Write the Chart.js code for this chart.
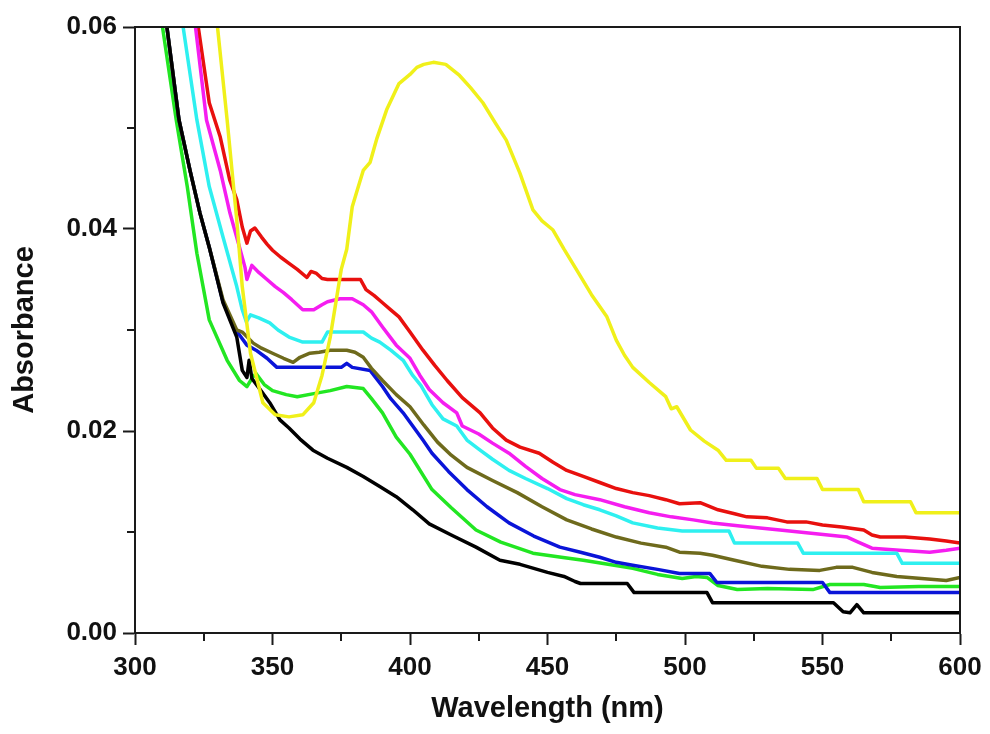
<!DOCTYPE html>
<html>
<head>
<meta charset="utf-8">
<script src="https://cdn.jsdelivr.net/npm/chart.js@4.4.0/dist/chart.umd.min.js"></script>
<style>
  html, body { margin: 0; padding: 0; background: #fff; }
  #wrap { width: 990px; height: 734px; }
</style>
</head>
<body>
<div id="wrap"><canvas id="spectra" width="990" height="734"></canvas></div>
<script>
// axis ticks
const xMajorTicks = [300, 350, 400, 450, 500, 550, 600];
const xMinorTicks = [325, 375, 425, 475, 525, 575];
const yMajorTicks = [0, 0.02, 0.04, 0.06];
const yMinorTicks = [0.01, 0.03, 0.05];

// absorption spectra, wavelength (nm) / absorbance
const yellowWl = [325, 330, 333.5, 337, 339, 342, 346.5, 351, 356, 361, 365, 368, 371, 375, 377, 379, 381, 383, 385.5, 388, 391.5, 396, 400, 402.5, 405, 408.5, 413, 418, 422, 426.5, 431, 435, 440, 444.7, 448, 452, 456, 460.7, 466, 471.6, 475, 478, 481, 487, 493, 495, 497, 502, 507, 512, 515, 524, 526, 534, 536.5, 548, 550, 563, 565, 582, 584, 600];
const yellowAbs = [0.068, 0.060, 0.0508, 0.0409, 0.0343, 0.0277, 0.0228, 0.0216, 0.0214, 0.0216, 0.0228, 0.0255, 0.0293, 0.0360, 0.0380, 0.0422, 0.0440, 0.0458, 0.0466, 0.0490, 0.0518, 0.0544, 0.0553, 0.0560, 0.0563, 0.0565, 0.0563, 0.0552, 0.0540, 0.0525, 0.0505, 0.0488, 0.0455, 0.0419, 0.0408, 0.0399, 0.0380, 0.0359, 0.0335, 0.0313, 0.0290, 0.0275, 0.0263, 0.0248, 0.0234, 0.0222, 0.0224, 0.0201, 0.0190, 0.0181, 0.0171, 0.0171, 0.0163, 0.0163, 0.0153, 0.0153, 0.0142, 0.0142, 0.0130, 0.0130, 0.0119, 0.0119];

const redWl = [318, 323, 327, 331, 334.5, 337, 339, 340.7, 342, 343.6, 346, 348, 350, 353, 356, 359, 362.5, 364, 366, 368, 370, 382, 384, 387, 390, 393, 396, 400, 404.7, 409, 413.5, 419, 425.5, 430, 435, 440, 447, 452, 457, 463, 469, 475, 481, 487, 493, 498, 505.5, 512, 518, 522.5, 530, 537, 544, 550, 557, 565, 568, 571, 580, 589, 595, 600];
const redAbs = [0.072, 0.060, 0.0525, 0.0491, 0.0448, 0.0429, 0.0402, 0.0386, 0.0398, 0.0401, 0.0392, 0.0385, 0.0379, 0.0372, 0.0366, 0.0360, 0.0352, 0.0358, 0.0356, 0.0351, 0.0350, 0.0350, 0.0340, 0.0334, 0.0327, 0.0320, 0.0313, 0.0298, 0.0280, 0.0265, 0.0250, 0.0233, 0.0218, 0.0203, 0.0191, 0.0184, 0.0178, 0.0169, 0.0161, 0.0155, 0.0149, 0.0143, 0.0139, 0.0136, 0.0132, 0.0128, 0.0129, 0.0122, 0.0118, 0.0115, 0.0114, 0.0110, 0.0110, 0.0107, 0.0105, 0.0102, 0.0097, 0.0095, 0.0095, 0.0093, 0.0091, 0.0089];

const magentaWl = [316, 322, 326, 331, 334.5, 338, 340, 340.7, 342.5, 345, 348, 351, 354, 357, 361, 365, 368, 370, 374.5, 379, 383, 386, 390, 395, 400, 403.6, 407, 412, 417, 419, 425, 430, 436, 442, 448, 454.5, 460, 469, 478, 487, 495, 503, 510, 520, 534.5, 545, 559, 563, 568, 578, 589, 595, 600];
const magentaAbs = [0.073, 0.060, 0.0508, 0.0458, 0.0416, 0.0382, 0.0362, 0.0350, 0.0364, 0.0357, 0.0350, 0.0343, 0.0337, 0.0330, 0.0320, 0.0320, 0.0325, 0.0328, 0.0331, 0.0331, 0.0325, 0.0318, 0.0303, 0.0285, 0.0272, 0.0255, 0.0241, 0.0228, 0.0218, 0.0205, 0.0197, 0.0188, 0.0178, 0.0165, 0.0153, 0.0142, 0.0137, 0.0132, 0.0125, 0.0119, 0.0115, 0.0112, 0.0109, 0.0106, 0.0102, 0.0099, 0.0095, 0.0090, 0.0084, 0.0082, 0.0080, 0.0082, 0.0084];

const cyanWl = [312.5, 317.5, 322.5, 327, 332, 337, 339, 340.5, 342, 345, 349, 352, 356, 361, 368, 370, 383, 386, 389, 393, 397.5, 401, 404, 408, 412, 417, 420.7, 425, 430, 436, 442, 450, 457, 463, 469, 475, 481, 490, 499, 516, 518, 541, 543, 577, 579, 600];
const cyanAbs = [0.072, 0.060, 0.0508, 0.0442, 0.0392, 0.0343, 0.0320, 0.0308, 0.0315, 0.0312, 0.0307, 0.0300, 0.0293, 0.0288, 0.0288, 0.0298, 0.0298, 0.0292, 0.0288, 0.0280, 0.0270, 0.0255, 0.0245, 0.0226, 0.0212, 0.0205, 0.0191, 0.0182, 0.0172, 0.0161, 0.0153, 0.0143, 0.0133, 0.0127, 0.0122, 0.0116, 0.0109, 0.0104, 0.0101, 0.0101, 0.0089, 0.0089, 0.0079, 0.0079, 0.0069, 0.0069];

const oliveWl = [306, 311.6, 316, 320, 323.6, 327, 332, 337, 339, 343, 346, 350, 354, 357.5, 360, 363.6, 367, 371, 377, 380, 383, 386, 390, 395, 400, 405, 410, 415, 420.7, 430, 439, 448, 457, 466, 475, 484, 493, 498, 505.5, 510, 518, 528, 538, 549, 555, 561, 568, 577, 586, 595, 600];
const oliveAbs = [0.072, 0.060, 0.0508, 0.0458, 0.0416, 0.0382, 0.0330, 0.0300, 0.0298, 0.0287, 0.0282, 0.0277, 0.0272, 0.0268, 0.0273, 0.0277, 0.0278, 0.0280, 0.0280, 0.0278, 0.0273, 0.0262, 0.0250, 0.0236, 0.0224, 0.0206, 0.0189, 0.0176, 0.0164, 0.0151, 0.0139, 0.0125, 0.0112, 0.0103, 0.0095, 0.0089, 0.0085, 0.0080, 0.0079, 0.0077, 0.0072, 0.0066, 0.0063, 0.0062, 0.0065, 0.0065, 0.0060, 0.0056, 0.0054, 0.0052, 0.0055];

const blueWl = [306, 311.6, 316, 320, 323.6, 327, 332, 337, 338, 340.7, 344, 348, 351.6, 371, 375, 377, 379, 385.5, 390, 393, 397.5, 401, 404.7, 408, 414, 420.7, 428, 436, 445, 454.5, 462, 469, 475, 481, 490, 498, 509, 511.6, 550, 552.7, 600];
const blueAbs = [0.072, 0.060, 0.0508, 0.0458, 0.0416, 0.0382, 0.0328, 0.0298, 0.0295, 0.0285, 0.0280, 0.0272, 0.0263, 0.0263, 0.0263, 0.0267, 0.0263, 0.0260, 0.0244, 0.0232, 0.0218, 0.0205, 0.0191, 0.0178, 0.0160, 0.0142, 0.0125, 0.0109, 0.0096, 0.0085, 0.0080, 0.0075, 0.0070, 0.0067, 0.0063, 0.0059, 0.0059, 0.0050, 0.0050, 0.0040, 0.0040];

const greenWl = [305, 310, 315, 319, 322.5, 327, 333.5, 338, 340.7, 342.5, 344, 347, 350, 355, 359, 365, 371, 377, 383, 386, 390, 395, 400, 408, 415, 424, 433, 444.7, 455, 463, 472, 481, 490, 499, 504, 508, 512, 519, 530, 546.5, 552.7, 565, 571, 585, 600];
const greenAbs = [0.069, 0.060, 0.0508, 0.0442, 0.0376, 0.0310, 0.0270, 0.0250, 0.0244, 0.0252, 0.0257, 0.0246, 0.0240, 0.0236, 0.0234, 0.0237, 0.0240, 0.0244, 0.0242, 0.0232, 0.0218, 0.0194, 0.0177, 0.0142, 0.0124, 0.0102, 0.0090, 0.0079, 0.0075, 0.0072, 0.0068, 0.0064, 0.0058, 0.0054, 0.0056, 0.0055, 0.0047, 0.0043, 0.0044, 0.0043, 0.0048, 0.0048, 0.0045, 0.0046, 0.0046];

const blackWl = [306, 311.6, 316, 320, 323.6, 327, 332, 337, 339, 340.7, 341.5, 342.5, 345, 349, 352.7, 356, 360, 364.7, 370, 377, 383, 389, 395, 401, 407, 415, 424, 432.7, 440, 445, 450, 456, 460, 462, 479, 481.5, 508, 510, 554, 557.5, 560, 562.5, 565, 600];
const blackAbs = [0.0718, 0.060, 0.0508, 0.0458, 0.0416, 0.0382, 0.0327, 0.0293, 0.0260, 0.0253, 0.0270, 0.0252, 0.0243, 0.0228, 0.0211, 0.0203, 0.0192, 0.0181, 0.0173, 0.0164, 0.0155, 0.0145, 0.0135, 0.0122, 0.0108, 0.0097, 0.0085, 0.0072, 0.0068, 0.0064, 0.0060, 0.0056, 0.0051, 0.0049, 0.0049, 0.0040, 0.0040, 0.0030, 0.0030, 0.0021, 0.0020, 0.0028, 0.0020, 0.0020];

const axisColor = '#1a1a1a';
const fontFamily = '"Liberation Sans", Arial, Helvetica, sans-serif';

function toPoints(wl, abs) {
  return wl.map((w, i) => ({ x: w, y: abs[i] }));
}

function series(wl, abs, color) {
  return {
    data: toPoints(wl, abs),
    borderColor: color,
    borderWidth: 3.5,
    pointRadius: 0,
    tension: 0,
    borderJoinStyle: 'round',
    borderCapStyle: 'round'
  };
}

// frame round the plot area plus short minor ticks
const frameAndMinorTicks = {
  id: 'frameAndMinorTicks',
  afterDraw(chart) {
    const { ctx, chartArea: a, scales: { x, y } } = chart;
    ctx.save();
    ctx.strokeStyle = axisColor;
    ctx.lineWidth = 2;
    ctx.strokeRect(a.left, a.top, a.right - a.left, a.bottom - a.top);
    ctx.beginPath();
    xMinorTicks.forEach(v => {
      const px = Math.round(x.getPixelForValue(v));
      ctx.moveTo(px, a.bottom);
      ctx.lineTo(px, a.bottom + 8);
    });
    yMinorTicks.forEach(v => {
      const py = Math.round(y.getPixelForValue(v));
      ctx.moveTo(a.left, py);
      ctx.lineTo(a.left - 8, py);
    });
    ctx.stroke();
    ctx.restore();
  }
};

const ctx = document.getElementById('spectra').getContext('2d');
new Chart(ctx, {
  type: 'line',
  data: {
    // first dataset is painted last, so it sits on top
    datasets: [
      series(yellowWl, yellowAbs, '#f0f01a'),
      series(blackWl, blackAbs, '#000000'),
      series(oliveWl, oliveAbs, '#6e6a1c'),
      series(blueWl, blueAbs, '#0a14d8'),
      series(greenWl, greenAbs, '#22e622'),
      series(cyanWl, cyanAbs, '#2ef0f0'),
      series(magentaWl, magentaAbs, '#f51df0'),
      series(redWl, redAbs, '#e8100e')
    ]
  },
  options: {
    responsive: false,
    animation: false,
    events: [],
    layout: { padding: { top: 27, right: 30, left: 0, bottom: 0 } },
    plugins: {
      legend: { display: false },
      tooltip: { enabled: false }
    },
    scales: {
      x: {
        type: 'linear',
        min: 300,
        max: 600,
        afterFit(scale) { scale.height = 101; },
        afterBuildTicks(scale) { scale.ticks = xMajorTicks.map(v => ({ value: v })); },
        ticks: {
          padding: 7,
          color: '#111',
          font: { family: fontFamily, size: 26, weight: 'bold' },
          maxRotation: 0,
          callback: v => String(v)
        },
        grid: {
          drawOnChartArea: false,
          drawTicks: true,
          tickLength: 12,
          tickWidth: 2,
          tickColor: axisColor
        },
        border: { display: true, color: axisColor, width: 2 },
        title: {
          display: true,
          text: 'Wavelength (nm)',
          color: '#111',
          font: { family: fontFamily, size: 29, weight: 'bold' },
          padding: { top: 0, bottom: 8 }
        }
      },
      y: {
        type: 'linear',
        min: 0,
        max: 0.06,
        afterFit(scale) { scale.width = 135; },
        afterBuildTicks(scale) { scale.ticks = yMajorTicks.map(v => ({ value: v })); },
        ticks: {
          padding: 6,
          color: '#111',
          font: { family: fontFamily, size: 26, weight: 'bold' },
          callback: v => v.toFixed(2)
        },
        grid: {
          drawOnChartArea: false,
          drawTicks: true,
          tickLength: 12,
          tickWidth: 2,
          tickColor: axisColor
        },
        border: { display: true, color: axisColor, width: 2 },
        title: {
          display: true,
          text: 'Absorbance',
          color: '#111',
          font: { family: fontFamily, size: 29, weight: 'bold' },
          padding: { top: 8, bottom: 0 }
        }
      }
    }
  },
  plugins: [frameAndMinorTicks]
});
</script>
</body>
</html>
